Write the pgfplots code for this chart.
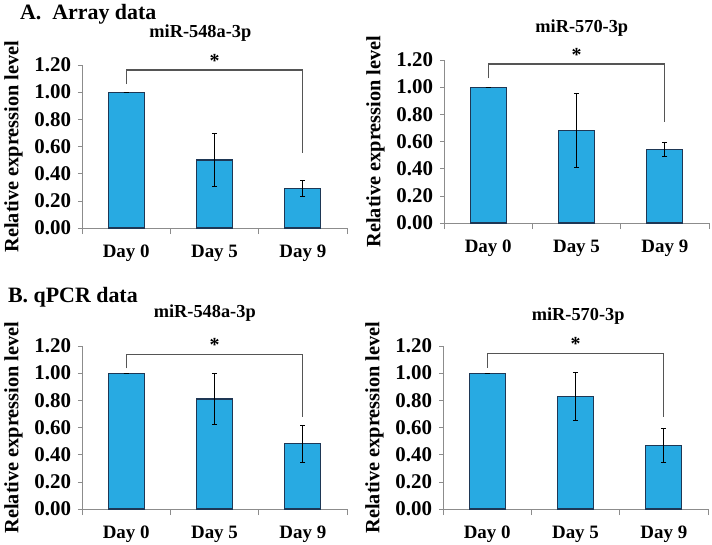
\documentclass[border=0pt]{standalone}
\usepackage{fontspec}
\setmainfont{Liberation Serif}
\usepackage{pgfplots}
\pgfplotsset{compat=1.18}
\definecolor{barblue}{RGB}{40,170,226}
\definecolor{baredge}{RGB}{30,55,85}
\definecolor{axgray}{RGB}{140,140,140}
\definecolor{brgray}{RGB}{85,85,85}

\pgfplotsset{
  mirpanel/.style={
    scale only axis,
    width=132.5bp, height=81.5bp,
    anchor=south west,
    axis x line=bottom, axis y line=left,
    axis line style={axgray, -},
    xmin=-0.5, xmax=2.5, ymin=0, ymax=1.2,
    ytick={0,0.2,...,1.2},
    yticklabel style={font=\fontsize{10.5}{12}\bfseries, /pgf/number format/.cd, fixed, fixed zerofill, precision=2},
    /pgf/number format/assume math mode=true,
    xtick={0,1,2},
    xticklabels={Day 0, Day 5, Day 9},
    xticklabel style={font=\fontsize{9.5}{11}\bfseries, yshift=-3bp},
    minor xtick={-0.5,0.5,1.5,2.5},
    major x tick style={draw=none},
    minor tick length=3bp,
    major tick length=2bp,
    tick align=outside,
    tick style={axgray},
    ylabel={Relative expression level},
    ylabel style={font=\fontsize{10.2}{12}\bfseries, yshift=-1bp},
    ybar, bar width=18bp,
    clip=false,
  },
  mirbars/.style={
    fill=barblue, draw=baredge, line width=0.6pt,
    error bars/.cd, y dir=both, y explicit,
    error bar style={black, line width=0.5pt},
    error mark options={black, line width=0.5pt, mark size=1.3bp, rotate=90},
  },
}
\tikzset{
  mirtitle/.style={anchor=base, font=\fontsize{9.2}{11}\bfseries},
  sigstar/.style={font=\fontsize{10}{12}\bfseries},
}

\begin{document}
\begin{tikzpicture}
\useasboundingbox (0,0) rectangle (356bp,-272.5bp);

% A. Array data, miR-548a-3p
\begin{axis}[mirpanel, at={(41bp,-114bp)}]
\addplot[mirbars] coordinates {(0,1.00) +- (0,0) (1,0.50) +- (0,0.195) (2,0.29) +- (0,0.06)};
\draw[brgray, line width=0.6pt] (axis cs:0,1.06) -- (axis cs:0,1.163) -- (axis cs:2,1.163) -- (axis cs:2,0.55);
\node[sigstar] at (axis cs:1,1.23) {*};
\node[mirtitle] at (axis cs:0.84,1.40) {miR-548a-3p};
\end{axis}

% A. Array data, miR-570-3p
\begin{axis}[mirpanel, at={(222bp,-111.5bp)}]
\addplot[mirbars] coordinates {(0,1.00) +- (0,0) (1,0.68) +- (0,0.27) (2,0.54) +- (0,0.05)};
\draw[brgray, line width=0.6pt] (axis cs:0,1.064) -- (axis cs:0,1.17) -- (axis cs:2,1.17) -- (axis cs:2,0.74);
\node[sigstar] at (axis cs:1,1.24) {*};
\node[mirtitle] at (axis cs:1.06,1.405) {miR-570-3p};
\end{axis}

% B. qPCR data, miR-548a-3p
\begin{axis}[mirpanel, at={(41bp,-254.5bp)}]
\addplot[mirbars] coordinates {(0,1.00) +- (0,0) (1,0.81) +- (0,0.19) (2,0.48) +- (0,0.135)};
\draw[brgray, line width=0.6pt] (axis cs:0,1.035) -- (axis cs:0,1.14) -- (axis cs:2,1.14) -- (axis cs:2,0.68);
\node[sigstar] at (axis cs:1,1.21) {*};
\node[mirtitle] at (axis cs:0.89,1.41) {miR-548a-3p};
\end{axis}

% B. qPCR data, miR-570-3p
\begin{axis}[mirpanel, at={(221.5bp,-254.5bp)}]
\addplot[mirbars] coordinates {(0,1.00) +- (0,0) (1,0.83) +- (0,0.175) (2,0.47) +- (0,0.125)};
\draw[brgray, line width=0.6pt] (axis cs:0,1.04) -- (axis cs:0,1.145) -- (axis cs:2,1.145) -- (axis cs:2,0.68);
\node[sigstar] at (axis cs:1,1.215) {*};
\node[mirtitle] at (axis cs:1.03,1.385) {miR-570-3p};
\end{axis}

\node[anchor=west, font=\fontsize{11}{13}\bfseries] at (6.5bp,-7bp) {A.\ \ Array data};
\node[anchor=west, font=\fontsize{11}{13}\bfseries] at (0.5bp,-148.5bp) {B. qPCR data};
\end{tikzpicture}
\end{document}
